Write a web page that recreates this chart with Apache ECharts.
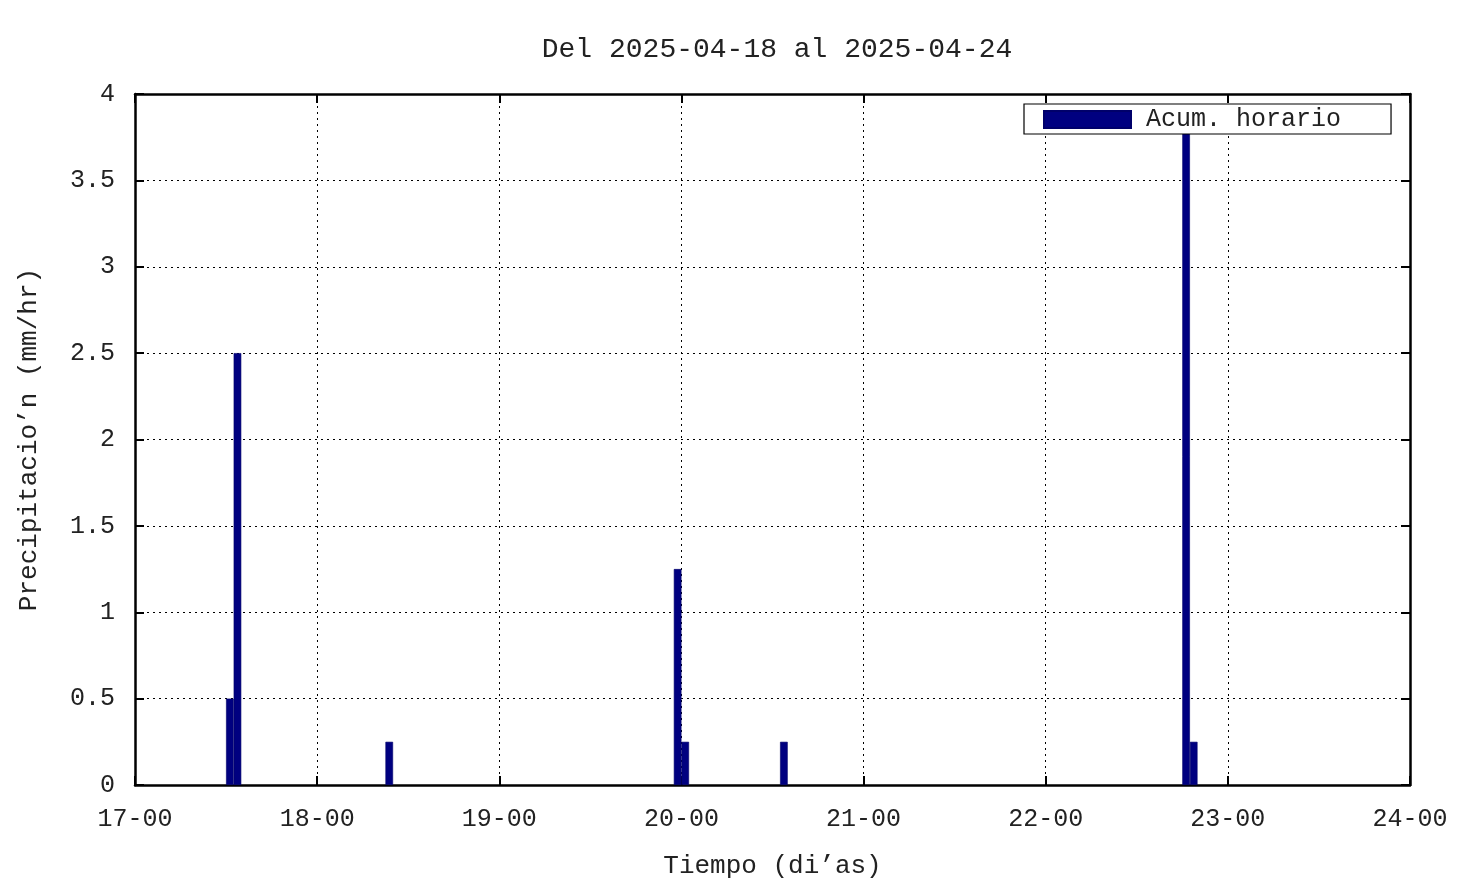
<!DOCTYPE html>
<html>
<head>
<meta charset="utf-8">
<script src="https://cdn.jsdelivr.net/npm/echarts@6/dist/echarts.min.js"></script>
<style>html,body{margin:0;padding:0;background:#fff}#c{width:1476px;height:885px}</style>
</head>
<body>
<div id="c"></div>
<script>
const titleText = 'Del 2025-04-18 al 2025-04-24';
const seriesName = 'Acum. horario';
const xTickLabels = ['17-00','18-00','19-00','20-00','21-00','22-00','23-00','24-00'];
const yTickValues = [0, 0.5, 1, 1.5, 2, 2.5, 3, 3.5, 4];
const startTime = '2025-04-17T00:00';
// bar centre times (hourly accumulation) and values (mm/hr)
const barTimes = ['2025-04-17T12:30','2025-04-17T13:30','2025-04-18T09:30','2025-04-19T23:30','2025-04-20T00:30','2025-04-20T13:30','2025-04-22T18:30','2025-04-22T19:30'];
const barValues = [0.5, 2.5, 0.25, 1.25, 0.25, 0.25, 3.8, 0.25];

const t0 = Date.parse(startTime + 'Z');
const hoursFromStart = s => (Date.parse(s + 'Z') - t0) / 3600000;
const data = barTimes.map((t, i) => [hoursFromStart(t), barValues[i]]);

const FONT = 'Liberation Mono';
const txt = {fontFamily: FONT, fontSize: 25, color: '#222'};
const chart = echarts.init(document.getElementById('c'));
const axisLine = {show: true, onZero: false, lineStyle: {color: '#000', width: 2.5}};
const tick = {show: true, inside: true, length: 9, lineStyle: {color: '#000', width: 2}};
const grid = {type: [2, 4], color: '#000', width: 1};
chart.setOption({
  animation: false,
  backgroundColor: '#fff',
  title: {text: titleText, left: 772, textAlign: 'center', top: 31, textStyle: {fontFamily: FONT, fontSize: 28, fontWeight: 'normal', color: '#222'}},
  legend: {
    data: [seriesName], left: 1024, top: 104, orient: 'horizontal',
    borderColor: '#000', borderWidth: 1.2, padding: [3, 50, 2, 19], backgroundColor: '#fff',
    itemWidth: 87, itemHeight: 17, itemGap: 10, icon: 'rect',
    textStyle: {fontFamily: FONT, fontSize: 25, color: '#222', padding: [0, 0, 0, 10]}
  },
  grid: {left: 135, right: 66, top: 94, bottom: 100, containLabel: false, outerBoundsMode: 'none'},
  xAxis: [{
    type: 'value', min: 0, max: 168, interval: 24,
    name: 'Tiempo (di\u2019as)', nameLocation: 'middle', nameGap: 68,
    nameTextStyle: Object.assign({}, txt, {fontSize: 26}),
    axisLine, axisTick: tick,
    axisLabel: Object.assign({}, txt, {margin: 22, formatter: v => xTickLabels[Math.round(v / 24)]}),
    splitLine: {show: true, lineStyle: grid}
  }, {
    type: 'value', min: 0, max: 168, interval: 24, position: 'top',
    axisLine, axisTick: tick, axisLabel: {show: false}, splitLine: {show: false}
  }],
  yAxis: [{
    type: 'value', min: yTickValues[0], max: yTickValues[yTickValues.length - 1], interval: 0.5,
    name: 'Precipitacio\u2019n (mm/hr)', nameLocation: 'middle', nameGap: 93,
    nameTextStyle: Object.assign({}, txt, {fontSize: 26}),
    axisLine, axisTick: tick,
    axisLabel: Object.assign({}, txt, {margin: 20, formatter: v => String(v)}),
    splitLine: {show: true, lineStyle: grid}
  }, {
    type: 'value', min: 0, max: 4, interval: 0.5, position: 'right',
    axisLine, axisTick: tick, axisLabel: {show: false}, splitLine: {show: false}
  }],
  series: [{
    name: seriesName, type: 'bar', xAxisIndex: 0, yAxisIndex: 0,
    data: data, barWidth: 7.6,
    itemStyle: {color: '#000080', borderColor: '#00006a', borderWidth: 0.6},
    z: 3
  }]
});
</script>
</body>
</html>
